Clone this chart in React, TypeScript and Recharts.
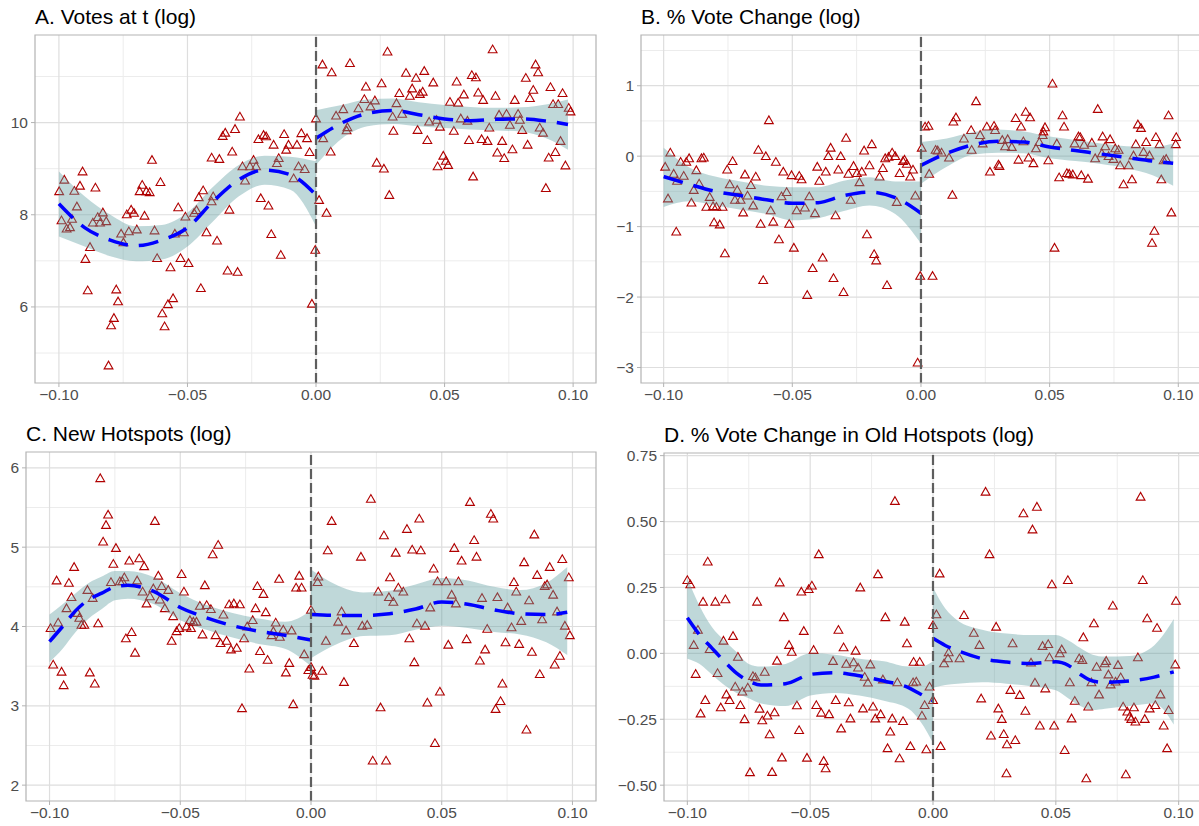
import React from "react";
import {
	Area,
	ComposedChart,
	Line,
	ReferenceArea,
	ReferenceLine,
	Scatter,
	XAxis,
	YAxis,
} from "recharts";

type Pt = [number, number];
// x, fitted value, lower bound, upper bound
type FitRow = [number, number, number, number];

const xMajor = [-0.1, -0.05, 0, 0.05, 0.1];
const xMinor = [-0.075, -0.025, 0.025, 0.075];

// A. Votes at t (log)
const votesYMajor = [6, 8, 10];
const votesYMinor = [5, 7, 9, 11];
const votesPoints: Pt[] = [
	[-0.0999, 8.51], [-0.0979, 8.76], [-0.099, 7.88], [-0.097, 7.7], [-0.0957, 7.73],
	[-0.093, 8.18], [-0.094, 8.52], [-0.0918, 8.63], [-0.0908, 8.94], [-0.0858, 8.59],
	[-0.0949, 7.91], [-0.0868, 7.83], [-0.0849, 7.95], [-0.0829, 8.05], [-0.0816, 7.86],
	[-0.084, 7.83], [-0.0879, 7.3], [-0.0897, 7.04], [-0.0888, 6.36], [-0.0777, 6.38],
	[-0.077, 6.12], [-0.0786, 5.76], [-0.0797, 5.6], [-0.0807, 4.73], [-0.0758, 7.59],
	[-0.0749, 7.4], [-0.0728, 7.64], [-0.0697, 7.68], [-0.0736, 8.01], [-0.0719, 8.11],
	[-0.0708, 8.04], [-0.0667, 7.98], [-0.0686, 8.51], [-0.0676, 8.65], [-0.066, 8.51],
	[-0.0647, 8.49], [-0.0638, 9.19], [-0.0605, 8.71], [-0.0628, 7.66], [-0.0618, 7.06],
	[-0.0566, 6.86], [-0.0556, 6.19], [-0.0576, 6.06], [-0.0598, 5.86], [-0.0589, 5.58],
	[-0.0536, 8.16], [-0.0508, 7.96], [-0.0474, 8.04], [-0.0465, 8.1], [-0.0549, 7.59],
	[-0.0514, 7.62], [-0.0527, 7.06], [-0.0496, 6.95], [-0.0448, 6.41], [-0.0456, 8.38],
	[-0.0439, 8.53], [-0.04, 8.4], [-0.0406, 8.29], [-0.0426, 7.62], [-0.0385, 7.44],
	[-0.0406, 9.24], [-0.0376, 9.21], [-0.0363, 9.71], [-0.0353, 9.78], [-0.0315, 9.86],
	[-0.0296, 10.13], [-0.0326, 9.37], [-0.0337, 8.11], [-0.0344, 6.79], [-0.0305, 6.76],
	[-0.0286, 9.05], [-0.0257, 9.05], [-0.0243, 9.19], [-0.0233, 9.05], [-0.0276, 8.74],
	[-0.0215, 8.36], [-0.0185, 8.2], [-0.0174, 7.58], [-0.0137, 7.13], [-0.0224, 9.64],
	[-0.0204, 9.73], [-0.0194, 9.7], [-0.0165, 9.52], [-0.0124, 9.75], [-0.0107, 9.52],
	[-0.0116, 9.41], [-0.0074, 9.52], [-0.0152, 9.12], [-0.0145, 9.23], [-0.0087, 8.79],
	[-0.0068, 9.05], [-0.0044, 8.99], [-0.0057, 9.77], [-0.0035, 9.66], [-0.0025, 9.36],
	[-0.0016, 6.07], [-0.0003, 7.24],
	[0.0, 10.09], [0.0025, 11.26], [0.0061, 11.09], [0.0132, 11.29], [0.0278, 11.54],
	[0.0687, 11.59], [0.0854, 11.26], [0.0864, 11.09], [0.0194, 10.78], [0.0255, 10.85],
	[0.0188, 10.51], [0.0229, 10.48], [0.0212, 10.35], [0.0165, 10.31], [0.0106, 10.29],
	[0.0078, 10.15], [0.0122, 9.9], [0.0119, 9.83], [0.0028, 9.66], [0.0057, 9.37],
	[0.0012, 8.32], [0.0041, 8.04], [0.035, 11.08], [0.0389, 10.97], [0.0421, 11.12],
	[0.0456, 10.87], [0.0324, 10.64], [0.0374, 10.74], [0.0365, 10.58], [0.0404, 10.62],
	[0.0415, 10.67], [0.0313, 10.42], [0.0298, 10.13], [0.0335, 10.19], [0.0301, 9.82],
	[0.0395, 9.84], [0.0433, 9.62], [0.0236, 9.13], [0.0264, 9.0], [0.0285, 8.43],
	[0.044, 10.02], [0.0469, 10.06], [0.0482, 9.91], [0.0495, 9.28], [0.0505, 9.17],
	[0.0473, 9.05], [0.0514, 9.08], [0.0547, 10.89], [0.0521, 10.45], [0.0553, 10.43],
	[0.0575, 10.61], [0.0606, 11.03], [0.0622, 10.98], [0.0536, 9.82], [0.0563, 10.09],
	[0.0589, 10.04], [0.0595, 9.62], [0.0611, 8.83], [0.0631, 10.65], [0.065, 10.49],
	[0.0698, 10.58], [0.0674, 9.89], [0.0644, 9.64], [0.0667, 9.6], [0.0724, 9.6],
	[0.0705, 9.35], [0.0732, 9.23], [0.0764, 9.42], [0.0823, 9.52], [0.0712, 10.17],
	[0.0741, 10.19], [0.0786, 10.19], [0.0754, 9.95], [0.0802, 9.84], [0.0793, 10.06],
	[0.0773, 10.49], [0.0832, 10.53], [0.0816, 10.97], [0.0845, 10.71], [0.087, 9.89],
	[0.0883, 9.78], [0.0912, 10.77], [0.0959, 10.64], [0.0922, 10.4], [0.0942, 10.4],
	[0.0894, 8.58], [0.0905, 9.24], [0.0931, 9.36], [0.0951, 9.6], [0.097, 9.07],
	[0.0983, 10.32], [0.099, 10.24],
];
const votesFitLeft: FitRow[] = [
	[-0.1, 8.24, 7.53, 8.94], [-0.09, 7.72, 7.31, 8.4], [-0.08, 7.45, 7.1, 8.0],
	[-0.07, 7.33, 6.99, 7.75], [-0.06, 7.45, 7.03, 7.78], [-0.05, 7.72, 7.31, 8.05],
	[-0.04, 8.29, 7.86, 8.61], [-0.03, 8.76, 8.4, 9.08], [-0.02, 8.97, 8.65, 9.28],
	[-0.01, 8.87, 8.54, 9.26], [0, 8.43, 7.75, 9.16],
];
const votesFitRight: FitRow[] = [
	[0, 9.66, 9.08, 10.27], [0.01, 9.99, 9.65, 10.38], [0.02, 10.2, 9.92, 10.5],
	[0.03, 10.26, 9.97, 10.52], [0.04, 10.17, 9.92, 10.44], [0.05, 10.08, 9.88, 10.38],
	[0.06, 10.04, 9.85, 10.34], [0.07, 10.07, 9.83, 10.32], [0.08, 10.08, 9.8, 10.33],
	[0.09, 10.03, 9.65, 10.4], [0.098, 9.96, 9.41, 10.5],
];

// B. % Vote Change (log)
const changeYMajor = [-3, -2, -1, 0, 1];
const changeYMinor = [-2.5, -1.5, -0.5, 0.5, 1.5];
const changePoints: Pt[] = [
	[-0.0994, -0.15], [-0.0974, 0.05], [-0.0983, -0.6], [-0.0951, -1.07], [-0.0961, -0.25],
	[-0.0948, -0.35], [-0.0934, -0.08], [-0.0922, -0.28], [-0.0912, -0.08], [-0.0901, -0.03],
	[-0.0883, -0.48], [-0.0892, -0.66], [-0.0873, -0.2], [-0.0862, -0.39], [-0.0853, -0.03],
	[-0.0844, -0.02], [-0.0834, -0.72], [-0.0821, -0.58], [-0.0808, -0.71], [-0.0795, -0.72],
	[-0.0771, -0.72], [-0.0804, -0.94], [-0.0782, -0.97], [-0.0762, -1.38], [-0.0753, -0.19],
	[-0.0732, -0.07], [-0.0743, -0.4], [-0.0723, -0.62], [-0.0714, -0.48], [-0.0701, -0.62],
	[-0.0674, -0.56], [-0.0691, -0.8], [-0.0684, -0.26], [-0.0661, -0.41], [-0.0642, -0.29],
	[-0.0652, -0.7], [-0.0632, 0.09], [-0.0603, 0.0], [-0.0591, 0.51], [-0.0623, -0.96],
	[-0.0613, -1.76], [-0.0584, -0.77], [-0.0564, -0.08], [-0.0574, -0.93], [-0.0552, -1.18],
	[-0.0535, -0.22], [-0.0542, -0.57], [-0.0522, -0.51], [-0.0512, -0.96], [-0.0503, -0.27],
	[-0.0473, -0.28], [-0.0464, -0.33], [-0.0494, -1.3], [-0.0483, -0.77], [-0.0451, -0.73],
	[-0.0434, -0.57], [-0.0412, -0.81], [-0.0442, -1.97], [-0.0421, -1.59], [-0.0403, -0.15],
	[-0.0395, -0.35], [-0.037, -0.22], [-0.0382, -1.44], [-0.036, 0.0], [-0.0351, 0.12],
	[-0.034, -1.73], [-0.0332, -0.84], [-0.0321, -0.19], [-0.0312, 0.0], [-0.0301, -1.93],
	[-0.0291, 0.26], [-0.0282, -0.25], [-0.0262, -0.14], [-0.0249, -0.24], [-0.0273, -0.62],
	[-0.0239, -0.37], [-0.023, -0.22], [-0.0221, 0.08], [-0.021, -1.11], [-0.02, -0.13],
	[-0.0191, 0.17], [-0.0182, -1.39], [-0.0174, -1.48], [-0.0161, -0.29], [-0.0148, -0.17],
	[-0.0139, -0.03], [-0.0126, -0.01], [-0.0112, 0.05], [-0.01, 0.0], [-0.0132, -1.83],
	[-0.0094, -0.65], [-0.0083, -0.24], [-0.007, -0.07], [-0.0064, -0.05], [-0.0055, -0.11],
	[-0.0042, -0.29], [-0.0031, -0.19], [-0.0022, -0.56], [-0.0013, -2.93], [-0.0003, -1.7],
	[0.0016, 0.42], [0.0029, 0.43], [0.0003, 0.12], [0.0032, -0.25], [0.0045, -1.7],
	[0.0057, 0.09], [0.0065, 0.08], [0.008, 0.05], [0.0109, -0.02], [0.0122, -0.55],
	[0.0126, 0.49], [0.0136, 0.55], [0.0167, 0.25], [0.0195, 0.37], [0.0197, 0.09],
	[0.0214, 0.78], [0.023, 0.3], [0.024, 0.18], [0.0256, 0.42], [0.0284, 0.43],
	[0.0288, 0.37], [0.0268, -0.22], [0.0301, -0.12], [0.0305, -0.14], [0.0316, 0.23],
	[0.0327, 0.14], [0.0337, 0.24], [0.0353, 0.13], [0.0368, 0.54], [0.0389, 0.42],
	[0.0407, 0.63], [0.0424, 0.55], [0.0379, -0.05], [0.0418, -0.02], [0.0437, -0.1],
	[0.0398, 0.21], [0.0447, 0.11], [0.046, 0.2], [0.0473, 0.3], [0.0482, 0.41],
	[0.0476, 0.35], [0.0495, -0.06], [0.0511, 1.03], [0.0519, -1.3], [0.0528, 0.18],
	[0.055, 0.58], [0.0556, 0.42], [0.0537, -0.3], [0.0567, -0.24], [0.0576, -0.25],
	[0.059, -0.26], [0.0623, -0.27], [0.0649, -0.32], [0.0597, 0.18], [0.0612, 0.28],
	[0.0619, 0.27], [0.0634, 0.16], [0.0664, 0.19], [0.0677, -0.03], [0.0687, 0.67],
	[0.0706, 0.28], [0.0716, 0.14], [0.0735, 0.24], [0.0703, 0.04], [0.0729, 0.0],
	[0.0748, -0.04], [0.0755, 0.11], [0.0768, 0.09], [0.0774, -0.13], [0.0807, -0.13],
	[0.0787, -0.4], [0.082, -0.33], [0.0826, 0.01], [0.0835, 0.17], [0.0843, 0.45],
	[0.0855, 0.4], [0.0865, 0.06], [0.0875, 0.2], [0.0888, 0.01], [0.0913, 0.27],
	[0.0927, 0.17], [0.0934, -0.33], [0.0943, -0.06], [0.0953, -0.04], [0.0962, 0.58],
	[0.0973, -0.8], [0.0992, 0.27], [0.099, 0.17], [0.0907, -1.06], [0.0898, -1.23],
];
const changeFitLeft: FitRow[] = [
	[-0.1, -0.29, -0.72, 0.12], [-0.09, -0.4, -0.64, -0.16], [-0.08, -0.5, -0.7, -0.29],
	[-0.07, -0.56, -0.76, -0.36], [-0.06, -0.62, -0.82, -0.42], [-0.05, -0.67, -0.91, -0.44],
	[-0.04, -0.66, -0.88, -0.44], [-0.03, -0.56, -0.78, -0.35], [-0.02, -0.51, -0.7, -0.3],
	[-0.01, -0.59, -0.82, -0.36], [0, -0.81, -1.24, -0.36],
];
const changeFitRight: FitRow[] = [
	[0, -0.13, -0.39, 0.2], [0.01, 0.04, -0.15, 0.25], [0.02, 0.16, 0.02, 0.34],
	[0.03, 0.21, 0.05, 0.38], [0.04, 0.2, 0.04, 0.35], [0.05, 0.13, -0.03, 0.28],
	[0.06, 0.08, -0.07, 0.23], [0.07, 0.03, -0.11, 0.18], [0.08, -0.02, -0.17, 0.14],
	[0.09, -0.07, -0.27, 0.13], [0.098, -0.1, -0.42, 0.18],
];

// C. New Hotspots (log)
const hotspotYMajor = [2, 3, 4, 5, 6];
const hotspotYMinor = [2.5, 3.5, 4.5, 5.5];
const hotspotPoints: Pt[] = [
	[-0.0996, 3.98], [-0.0986, 3.52], [-0.0973, 4.58], [-0.0967, 4.05], [-0.0954, 3.43],
	[-0.0946, 3.26], [-0.0935, 4.23], [-0.0926, 4.55], [-0.0916, 4.37], [-0.0906, 4.75],
	[-0.0893, 4.17], [-0.0886, 4.11], [-0.0878, 4.02], [-0.0867, 4.02], [-0.0855, 4.46],
	[-0.0835, 4.36], [-0.0846, 3.42], [-0.0827, 3.28], [-0.0814, 4.04], [-0.0806, 5.87],
	[-0.0776, 5.41], [-0.0784, 5.28], [-0.0795, 5.07], [-0.0765, 4.56], [-0.0756, 4.79],
	[-0.0746, 4.99], [-0.0731, 4.57], [-0.0721, 4.57], [-0.0714, 4.62], [-0.0708, 3.85],
	[-0.0686, 3.93], [-0.0695, 4.83], [-0.0657, 4.86], [-0.0638, 4.76], [-0.0673, 3.67],
	[-0.0665, 4.58], [-0.0644, 4.44], [-0.0629, 4.29], [-0.0616, 4.38], [-0.0603, 4.48],
	[-0.0597, 5.33], [-0.0584, 4.64], [-0.0571, 4.51], [-0.0578, 4.34], [-0.0559, 4.23],
	[-0.0546, 4.46], [-0.0527, 4.13], [-0.0533, 3.82], [-0.0514, 3.94], [-0.0504, 3.98],
	[-0.0495, 4.66], [-0.0486, 4.44], [-0.0476, 4.0], [-0.0459, 3.98], [-0.045, 4.06],
	[-0.0438, 4.06], [-0.0463, 4.08], [-0.0415, 3.9], [-0.0406, 4.52], [-0.0425, 4.26],
	[-0.0399, 4.27], [-0.0383, 4.22], [-0.0376, 4.91], [-0.0355, 5.03], [-0.0365, 3.89],
	[-0.0346, 3.79], [-0.0323, 3.82], [-0.0306, 3.71], [-0.0284, 3.73], [-0.0335, 4.15],
	[-0.0313, 4.28], [-0.0295, 4.29], [-0.0272, 4.28], [-0.0264, 2.97], [-0.0256, 3.85],
	[-0.0244, 4.0], [-0.0223, 4.08], [-0.0236, 3.47], [-0.0212, 4.23], [-0.0173, 4.18],
	[-0.0205, 4.51], [-0.0182, 4.41], [-0.0195, 3.69], [-0.0166, 3.58], [-0.0151, 3.89],
	[-0.0135, 4.05], [-0.0144, 3.94], [-0.0119, 3.87], [-0.0106, 3.96], [-0.0074, 3.95],
	[-0.0122, 4.6], [-0.0096, 3.42], [-0.0083, 3.54], [-0.0068, 3.02], [-0.0045, 4.64],
	[-0.0057, 4.49], [-0.0036, 4.49], [-0.0026, 3.65], [-0.001, 3.45], [0.0, 3.49],
	[0.0006, 3.39],
	[0.0, 4.21], [0.0028, 4.63], [0.0025, 4.56], [0.0064, 4.96], [0.0079, 5.33],
	[0.0104, 4.06], [0.0117, 4.19], [0.0134, 3.95], [0.0057, 3.82], [0.0164, 3.79],
	[0.0126, 3.3], [0.0043, 3.44], [0.0013, 3.38], [0.0191, 4.88], [0.0196, 4.01],
	[0.0215, 4.02], [0.0229, 5.61], [0.0236, 2.31], [0.0287, 2.31], [0.0266, 2.98],
	[0.0257, 4.44], [0.0279, 5.15], [0.0302, 4.62], [0.0298, 4.37], [0.0315, 4.31],
	[0.0334, 4.49], [0.0353, 4.44], [0.0324, 4.93], [0.0367, 5.23], [0.0376, 3.85],
	[0.0387, 4.97], [0.042, 4.96], [0.0414, 5.36], [0.0395, 3.55], [0.0405, 4.04],
	[0.0436, 4.01], [0.0445, 3.04], [0.0469, 4.73], [0.0456, 4.24], [0.0474, 2.53],
	[0.0484, 4.57], [0.0517, 4.57], [0.0493, 3.18], [0.0525, 3.77], [0.0538, 4.4],
	[0.0554, 4.29], [0.0564, 4.57], [0.0548, 4.99], [0.0576, 4.83], [0.0595, 3.84],
	[0.0608, 5.57], [0.0624, 5.09], [0.0633, 4.88], [0.0646, 3.57], [0.0666, 3.71],
	[0.0654, 4.36], [0.0674, 3.97], [0.0713, 4.37], [0.0688, 5.42], [0.0697, 5.36],
	[0.0725, 3.06], [0.0706, 2.96], [0.0732, 3.28], [0.0744, 3.8], [0.0796, 3.78],
	[0.0752, 4.24], [0.0767, 3.99], [0.0776, 4.56], [0.0785, 4.44], [0.0804, 4.07],
	[0.0815, 4.81], [0.0824, 2.7], [0.0834, 4.33], [0.0845, 3.68], [0.0854, 5.16],
	[0.0865, 4.65], [0.0875, 3.4], [0.0894, 4.51], [0.0903, 4.53], [0.0913, 4.75],
	[0.0926, 4.4], [0.0884, 4.09], [0.0941, 4.19], [0.0932, 3.52], [0.0952, 3.63],
	[0.0961, 4.85], [0.0971, 4.01], [0.099, 3.89], [0.0986, 4.62],
];
const hotspotFitLeft: FitRow[] = [
	[-0.1, 3.81, 3.55, 4.15], [-0.095, 4.0, 3.72, 4.28], [-0.09, 4.2, 3.93, 4.42],
	[-0.085, 4.34, 4.1, 4.55], [-0.08, 4.42, 4.22, 4.63], [-0.075, 4.5, 4.33, 4.7],
	[-0.07, 4.52, 4.35, 4.7], [-0.06, 4.44, 4.28, 4.62], [-0.05, 4.24, 4.08, 4.42],
	[-0.04, 4.11, 3.96, 4.27], [-0.03, 4.01, 3.86, 4.17], [-0.02, 3.94, 3.78, 4.1],
	[-0.01, 3.89, 3.72, 4.06], [0, 3.83, 3.5, 4.2],
];
const hotspotFitRight: FitRow[] = [
	[0, 4.15, 3.6, 4.72], [0.01, 4.14, 3.78, 4.52], [0.02, 4.14, 3.88, 4.43],
	[0.03, 4.16, 3.89, 4.45], [0.04, 4.22, 3.96, 4.53], [0.05, 4.31, 4.01, 4.61],
	[0.06, 4.28, 3.98, 4.58], [0.07, 4.21, 3.93, 4.5], [0.08, 4.16, 3.9, 4.46],
	[0.09, 4.15, 3.8, 4.55], [0.098, 4.18, 3.64, 4.75],
];

// D. % Vote Change in Old Hotspots (log)
const oldYMajor = [-0.5, -0.25, 0, 0.25, 0.5, 0.75];
const oldYMinor = [-0.375, -0.125, 0.125, 0.375, 0.625];
const oldPoints: Pt[] = [
	[-0.1, 0.278], [-0.0988, 0.262], [-0.0974, 0.032], [-0.0966, -0.078], [-0.0957, 0.089],
	[-0.0946, -0.228], [-0.0936, 0.196], [-0.0927, -0.177], [-0.0917, 0.348], [-0.0909, 0.016],
	[-0.0886, 0.196], [-0.0845, 0.205], [-0.0877, -0.075], [-0.0864, -0.205], [-0.0853, 0.048],
	[-0.0841, -0.156], [-0.0828, -0.177], [-0.0814, 0.066], [-0.0805, -0.126], [-0.0794, -0.013],
	[-0.0784, -0.196], [-0.0776, -0.145], [-0.0754, -0.13], [-0.0733, -0.086], [-0.0723, -0.091],
	[-0.0767, -0.25], [-0.0745, -0.451], [-0.0716, 0.196], [-0.0706, -0.21], [-0.0695, -0.254],
	[-0.0685, -0.07], [-0.0674, -0.236], [-0.0665, -0.307], [-0.0655, -0.45], [-0.0645, -0.224],
	[-0.0635, -0.028], [-0.0624, 0.269], [-0.0615, -0.395], [-0.0607, 0.137], [-0.0586, 0.032],
	[-0.0575, 0.006], [-0.0554, -0.197], [-0.0545, -0.291], [-0.0536, 0.234], [-0.0526, 0.085],
	[-0.0513, -0.396], [-0.0506, 0.244], [-0.0493, 0.257], [-0.0486, 0.013], [-0.0475, -0.196],
	[-0.0465, 0.376], [-0.0455, -0.225], [-0.0445, -0.408], [-0.0437, -0.436], [-0.0423, -0.231],
	[-0.0407, -0.029], [-0.0396, -0.177], [-0.0385, 0.089], [-0.0374, -0.285], [-0.0364, 0.023],
	[-0.0353, -0.04], [-0.0343, -0.186], [-0.0336, -0.247], [-0.0323, -0.034], [-0.0315, 0.01],
	[-0.0305, -0.054], [-0.0296, 0.25], [-0.0285, -0.209], [-0.0278, -0.089], [-0.0265, -0.111],
	[-0.0255, -0.042], [-0.0244, -0.202], [-0.0235, -0.247], [-0.0224, 0.3], [-0.0213, -0.231],
	[-0.0204, -0.099], [-0.0194, 0.137], [-0.0185, -0.36], [-0.0174, -0.297], [-0.0166, -0.247],
	[-0.0155, 0.578], [-0.0145, -0.11], [-0.0136, -0.398], [-0.0122, -0.257], [-0.0115, 0.12],
	[-0.0106, 0.038], [-0.0092, -0.352], [-0.0079, -0.032], [-0.0054, -0.032], [-0.0081, -0.11],
	[-0.0068, -0.107], [-0.0045, -0.236], [-0.0034, -0.196], [-0.0027, -0.364], [-0.0014, -0.126],
	[0.0, -0.177],
	[0.0027, 0.303], [0.0014, 0.148], [0.0, 0.107], [0.0031, -0.352], [0.0045, -0.038],
	[0.0061, -0.019], [0.0064, 0.004], [0.0108, -0.019], [0.0126, 0.145], [0.0166, 0.078],
	[0.0189, 0.032], [0.0196, -0.171], [0.0214, 0.613], [0.023, 0.376], [0.0236, -0.312],
	[0.0257, 0.101], [0.0266, -0.209], [0.028, -0.249], [0.0288, -0.306], [0.0301, -0.345],
	[0.0335, -0.329], [0.0299, -0.455], [0.0315, -0.139], [0.0324, 0.038], [0.0353, -0.158],
	[0.0368, 0.531], [0.0376, -0.218], [0.0399, -0.035], [0.0405, 0.47], [0.0415, -0.111],
	[0.0423, 0.556], [0.0435, -0.274], [0.0446, 0.028], [0.0469, 0.035], [0.0457, -0.133],
	[0.0474, -0.015], [0.0484, 0.262], [0.0493, -0.274], [0.0516, 0.0], [0.0524, 0.015],
	[0.0536, -0.367], [0.0549, 0.278], [0.0557, -0.11], [0.0564, -0.247], [0.0577, -0.18],
	[0.0595, -0.019], [0.0608, -0.025], [0.0612, 0.061], [0.0624, -0.474], [0.0632, -0.202],
	[0.0645, -0.11], [0.0655, 0.114], [0.0666, -0.051], [0.0699, -0.038], [0.0705, -0.029],
	[0.0676, -0.156], [0.0714, -0.08], [0.0723, -0.118], [0.0743, -0.107], [0.0764, -0.091],
	[0.0732, 0.181], [0.0753, -0.044], [0.0774, -0.202], [0.0791, -0.221], [0.08, -0.24],
	[0.0807, -0.249], [0.0818, -0.205], [0.0824, -0.259], [0.0862, -0.249], [0.0882, -0.209],
	[0.0785, -0.459], [0.0834, -0.015], [0.0845, 0.594], [0.0854, 0.278], [0.0872, 0.133],
	[0.0905, -0.196], [0.0926, -0.156], [0.0912, 0.097], [0.0939, -0.274], [0.0953, -0.36],
	[0.0959, -0.215], [0.0986, -0.042], [0.0989, 0.199],
];
const oldFitLeft: FitRow[] = [
	[-0.1, 0.135, -0.02, 0.285], [-0.095, 0.07, -0.04, 0.18], [-0.09, 0.02, -0.08, 0.1],
	[-0.085, -0.03, -0.12, 0.05], [-0.08, -0.075, -0.15, 0.005], [-0.075, -0.105, -0.17, -0.04],
	[-0.07, -0.12, -0.19, -0.05], [-0.06, -0.115, -0.2, -0.04], [-0.05, -0.08, -0.16, 0.0],
	[-0.04, -0.073, -0.15, -0.005], [-0.03, -0.085, -0.16, -0.02], [-0.02, -0.105, -0.18, -0.03],
	[-0.01, -0.13, -0.21, -0.05], [-0.005, -0.155, -0.26, -0.05], [0, -0.18, -0.34, -0.03],
];
const oldFitRight: FitRow[] = [
	[0, 0.057, -0.13, 0.25], [0.005, 0.03, -0.12, 0.17], [0.01, 0.01, -0.115, 0.125],
	[0.02, -0.02, -0.11, 0.09], [0.03, -0.033, -0.115, 0.075], [0.04, -0.038, -0.125, 0.07],
	[0.05, -0.032, -0.14, 0.07], [0.055, -0.045, -0.17, 0.05], [0.06, -0.08, -0.2, 0.02],
	[0.065, -0.105, -0.215, -0.005], [0.07, -0.11, -0.21, -0.012], [0.08, -0.105, -0.2, -0.01],
	[0.09, -0.09, -0.19, 0.03], [0.098, -0.07, -0.27, 0.13],
];

const FONT = '"Liberation Sans", Arial, Helvetica, sans-serif';
const MINUS = "\u2212";

const fmtSigned = (s: string) => s.replace("-", MINUS);
const fmtX = (v: number) => fmtSigned(v.toFixed(2));
const fmtInt = (v: number) => fmtSigned(String(v));
const fmt2 = (v: number) => fmtSigned(v.toFixed(2));

// open triangle, like pch 2
const Triangle = (props: any) => {
	const { cx, cy } = props;
	if (cx == null || cy == null) return null;
	const pts = `${cx - 4.4},${cy + 3.4} ${cx + 4.4},${cy + 3.4} ${cx},${cy - 4.3}`;
	return <polygon points={pts} fill="none" stroke="#b00000" strokeWidth={1.1} />;
};

interface PanelProps {
	title: string;
	left: number;
	top: number;
	width: number;
	height: number;
	yWidth: number;
	xDomain: [number, number];
	yDomain: [number, number];
	yMajor: number[];
	yMinor: number[];
	yFormat: (v: number) => string;
	points: Pt[];
	fitLeft: FitRow[];
	fitRight: FitRow[];
}

const toFit = (rows: FitRow[]) =>
	rows.map(([x, fit, lo, hi]) => ({ x, fit, band: [lo, hi] }));

function Panel({
	title,
	left,
	top,
	width,
	height,
	yWidth,
	xDomain,
	yDomain,
	yMajor,
	yMinor,
	yFormat,
	points,
	fitLeft,
	fitRight,
}: PanelProps) {
	const pts = points.map(([x, y]) => ({ x, y }));
	const fl = toFit(fitLeft);
	const fr = toFit(fitRight);
	const tickStyle = { fill: "#4d4d4d", fontSize: 15.5, fontFamily: FONT };

	return (
		<div style={{ position: "absolute", left, top, width, height }}>
			<div
				style={{
					position: "absolute",
					left: yWidth,
					top: 6,
					fontSize: 21,
					lineHeight: "21px",
					fontFamily: FONT,
					color: "#000",
					whiteSpace: "nowrap",
				}}
			>
				{title}
			</div>
			<ComposedChart width={width} height={height} margin={{ top: 35, right: 3, left: 0, bottom: 0 }}>
				<XAxis
					type="number"
					dataKey="x"
					domain={xDomain}
					allowDataOverflow
					ticks={xMajor}
					interval={0}
					tickFormatter={fmtX}
					tick={tickStyle}
					tickLine={{ stroke: "#b3b3b3" }}
					tickSize={4}
					tickMargin={2}
					axisLine={false}
					height={30}
				/>
				<YAxis
					type="number"
					dataKey="y"
					domain={yDomain}
					allowDataOverflow
					ticks={yMajor}
					interval={0}
					tickFormatter={yFormat}
					tick={tickStyle}
					tickLine={{ stroke: "#b3b3b3" }}
					tickSize={4}
					tickMargin={3}
					axisLine={false}
					width={yWidth}
				/>

				{/* grid: minor then major */}
				{yMinor.map((v) => (
					<ReferenceLine key={`ym${v}`} y={v} stroke="#ececec" strokeWidth={1} zIndex={-50} />
				))}
				{xMinor.map((v) => (
					<ReferenceLine key={`xm${v}`} x={v} stroke="#ececec" strokeWidth={1} zIndex={-50} />
				))}
				{yMajor.map((v) => (
					<ReferenceLine key={`yM${v}`} y={v} stroke="#dedede" strokeWidth={1.2} zIndex={-50} />
				))}
				{xMajor.map((v) => (
					<ReferenceLine key={`xM${v}`} x={v} stroke="#dedede" strokeWidth={1.2} zIndex={-50} />
				))}

				<Scatter data={pts} shape={<Triangle />} isAnimationActive={false} zIndex={50} />

				{/* loess bands either side of the cutoff */}
				<Area
					data={fl}
					dataKey="band"
					type="monotone"
					stroke="none"
					fill="#5f9ea0"
					fillOpacity={0.4}
					isAnimationActive={false}
					zIndex={100}
				/>
				<Area
					data={fr}
					dataKey="band"
					type="monotone"
					stroke="none"
					fill="#5f9ea0"
					fillOpacity={0.4}
					isAnimationActive={false}
					zIndex={100}
				/>
				<Line
					data={fl}
					dataKey="fit"
					type="monotone"
					stroke="#0000ff"
					strokeWidth={3.5}
					strokeDasharray="20 11"
					dot={false}
					activeDot={false}
					isAnimationActive={false}
					zIndex={400}
				/>
				<Line
					data={fr}
					dataKey="fit"
					type="monotone"
					stroke="#0000ff"
					strokeWidth={3.5}
					strokeDasharray="20 11"
					dot={false}
					activeDot={false}
					isAnimationActive={false}
					zIndex={400}
				/>

				<ReferenceLine x={0} stroke="#5e5e5e" strokeWidth={2.2} strokeDasharray="10 4" zIndex={450} />
				<ReferenceArea
					x1={xDomain[0]}
					x2={xDomain[1]}
					y1={yDomain[0]}
					y2={yDomain[1]}
					fill="none"
					stroke="#b3b3b3"
					strokeWidth={1.2}
					ifOverflow="visible"
					zIndex={460}
				/>
			</ComposedChart>
		</div>
	);
}

export default function App() {
	return (
		<div
			style={{
				position: "fixed",
				left: 0,
				top: 0,
				width: 1199,
				height: 826,
				overflow: "hidden",
				background: "#fff",
			}}
		>
			<Panel
				title="A. Votes at t (log)"
				left={0}
				top={0}
				width={599}
				height={413}
				yWidth={35}
				xDomain={[-0.1093, 0.1089]}
				yDomain={[4.35, 11.9]}
				yMajor={votesYMajor}
				yMinor={votesYMinor}
				yFormat={fmtInt}
				points={votesPoints}
				fitLeft={votesFitLeft}
				fitRight={votesFitRight}
			/>
			<Panel
				title="B. % Vote Change (log)"
				left={600}
				top={0}
				width={606}
				height={413}
				yWidth={41}
				xDomain={[-0.1088, 0.1096]}
				yDomain={[-3.22, 1.72]}
				yMajor={changeYMajor}
				yMinor={changeYMinor}
				yFormat={fmtInt}
				points={changePoints}
				fitLeft={changeFitLeft}
				fitRight={changeFitRight}
			/>
			<Panel
				title="C. New Hotspots (log)"
				left={0}
				top={417}
				width={599}
				height={414}
				yWidth={26}
				xDomain={[-0.109, 0.109]}
				yDomain={[1.8, 6.2]}
				yMajor={hotspotYMajor}
				yMinor={hotspotYMinor}
				yFormat={fmtInt}
				points={hotspotPoints}
				fitLeft={hotspotFitLeft}
				fitRight={hotspotFitRight}
			/>
			<Panel
				title="D. % Vote Change in Old Hotspots (log)"
				left={600}
				top={418}
				width={605}
				height={413}
				yWidth={64}
				xDomain={[-0.1095, 0.1095]}
				yDomain={[-0.56, 0.76]}
				yMajor={oldYMajor}
				yMinor={oldYMinor}
				yFormat={fmt2}
				points={oldPoints}
				fitLeft={oldFitLeft}
				fitRight={oldFitRight}
			/>
		</div>
	);
}
